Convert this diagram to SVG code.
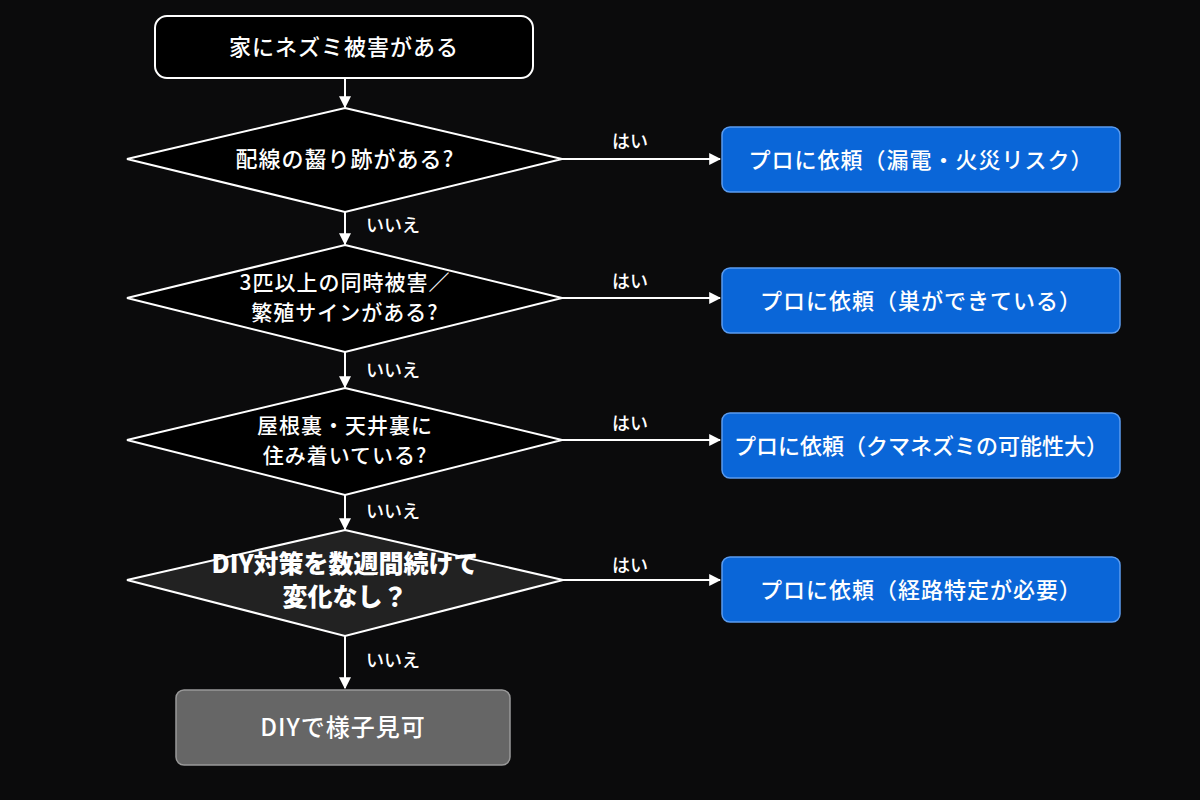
<svg xmlns="http://www.w3.org/2000/svg" width="1200" height="800" viewBox="0 0 1200 800">
<defs>
<marker id="a" viewBox="0 0 10 10" refX="9" refY="5" markerWidth="6" markerHeight="6" orient="auto"><path d="M0,0L10,5L0,10z" fill="#fff"/></marker>
<style>
text{font-family:"Noto Sans CJK JP","Noto Sans",sans-serif;fill:#fff;text-anchor:middle;font-weight:500}
.t{font-size:22px;letter-spacing:1px}
.l{font-size:18px}
.b{font-size:21px;letter-spacing:1px}
.d{fill:#000;stroke:#fff;stroke-width:2}
.p{fill:#0a66d8;stroke:#5b9cf0;stroke-width:1.5}
.c{stroke:#fff;stroke-width:2;fill:none;marker-end:url(#a)}
.k{font-size:25px;font-weight:900}
</style>
</defs>
<rect width="1200" height="800" fill="#0b0b0c"/>
<g id="start"><rect x="155" y="16" width="378" height="62" rx="12" fill="#000" stroke="#fff" stroke-width="2"/><text class="t" x="344" y="55">家にネズミ被害がある</text></g>
<g id="q1"><polygon class="d" points="345,108 562,159 345,212 127,159"/><text class="t" x="345" y="167">配線の齧り跡がある?</text></g>
<g id="q2"><polygon class="d" points="345,245 562,298 345,352 127,298"/><text class="b" x="345" y="290">3匹以上の同時被害／</text><text class="b" x="345" y="320">繁殖サインがある?</text></g>
<g id="q3"><polygon class="d" points="345,388 562,440 345,495 127,440"/><text class="b" x="345" y="433">屋根裏・天井裏に</text><text class="b" x="345" y="463">住み着いている?</text></g>
<g id="q4"><polygon class="d" style="fill:#222" points="345,530 563,580 345,636 127,580"/><text class="k" x="345" y="573">DIY対策を数週間続けて</text><text class="k" x="345" y="606">変化なし？</text></g>
<g id="p1"><rect class="p" x="722" y="127" width="398" height="65" rx="8"/><text class="t" x="921" y="168">プロに依頼（漏電・火災リスク）</text></g>
<g id="p2"><rect class="p" x="722" y="268" width="398" height="65" rx="8"/><text class="t" x="921" y="309">プロに依頼（巣ができている）</text></g>
<g id="p3"><rect class="p" x="722" y="413" width="398" height="65" rx="8"/><text class="t" x="921" y="454" style="letter-spacing:0">プロに依頼（クマネズミの可能性大）</text></g>
<g id="p4"><rect class="p" x="722" y="557" width="398" height="65" rx="8"/><text class="t" x="921" y="598">プロに依頼（経路特定が必要）</text></g>
<g id="end"><rect x="176" y="690" width="334" height="75" rx="8" fill="#666" stroke="#999" stroke-width="1.5"/><text x="343" y="736" style="font-size:24px;letter-spacing:1px">DIYで様子見可</text></g>
<g id="connectors">
<path class="c" d="M345,78V107"/>
<path class="c" d="M345,212V244"/>
<path class="c" d="M345,352V387"/>
<path class="c" d="M345,495V529"/>
<path class="c" d="M345,636V688"/>
<path class="c" d="M562,159H720"/>
<path class="c" d="M562,298H720"/>
<path class="c" d="M562,440H720"/>
<path class="c" d="M563,580H720"/>
<text class="l" x="630" y="148">はい</text><text class="l" x="630" y="288">はい</text><text class="l" x="630" y="430">はい</text><text class="l" x="630" y="572">はい</text>
<text class="l" x="393" y="232">いいえ</text><text class="l" x="393" y="377">いいえ</text><text class="l" x="393" y="518">いいえ</text><text class="l" x="393" y="667">いいえ</text>
</g>
</svg>
